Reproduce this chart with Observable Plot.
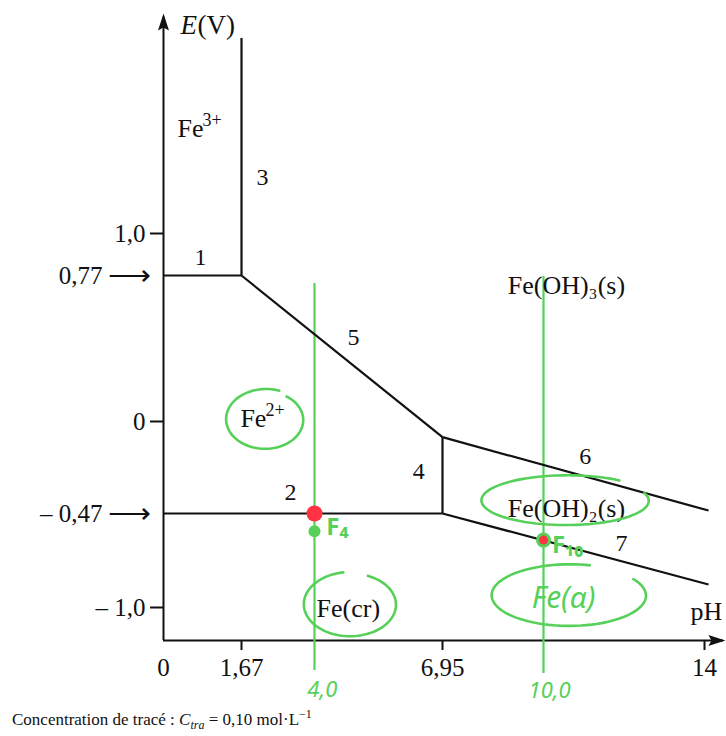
<!DOCTYPE html>
<html><head><meta charset="utf-8">
<script src="https://cdn.jsdelivr.net/npm/d3@7"></script>
<script src="https://cdn.jsdelivr.net/npm/@observablehq/plot@0.6"></script>
<style>
body{margin:0;background:#fff;}
#chart svg{overflow:visible;}
#caption{font-family:"Liberation Serif",serif;font-size:17px;margin-left:12px;line-height:22px;margin-top:-4px;color:#111;position:relative;}
</style>
</head><body>
<div id="chart"></div>
<div id="caption">Concentration de tracé : <i>C<sub style="font-size:12px">tra</sub></i> = 0,10 mol·L<sup style="font-size:12px">−1</sup></div>
<script>
// ---- data ----
const boundaryId = ["1","2","3","4","5","6","7"];
const boundaryPH1 = [0, 0, 1.67, 6.95, 1.67, 6.95, 6.95];
const boundaryPH2 = [1.67, 6.95, 1.67, 6.95, 6.95, 14.1, 14.1];
const boundaryE1 = [0.77, -0.47, 0.77, -0.47, 0.77, -0.08, -0.47];
const boundaryE2 = [0.77, -0.47, 2.04, -0.08, -0.08, -0.455, -0.87];

const labelPH = [0.79, 3.23, 2.34, 6.40, 4.90, 11.04, 11.94];
const labelE = [0.87, -0.36, 1.30, -0.255, 0.443, -0.179, -0.64];

const species = ["Fe", "Fe", "Fe(OH)₃(s)", "Fe(OH)₂(s)", "Fe(cr)"];
const speciesCharge = ["3+", "2+", "", "", ""];
const speciesPH = [0.58, 2.05, 10.57, 10.57, 4.78];
const speciesE = [1.56, 0.016, 0.717, -0.444, -1.005];

const yTicks = [1.0, 0, -1.0];
const xTicks = [1.67, 6.95, 14];
const markedE = [0.77, -0.47];
const markedLabels = ["0,77", "– 0,47"];

// handwritten annotations
const studyPH = [4, 10];
const studyTopE = [0.728, 0.765];
const studyBottomE = [-1.315, -1.33];
const studyLabels = ["4,0", "10,0"];
const studyLabelPH = [4.18, 10.15];
const studyLabelE = [-1.41, -1.415];
const pointNames = ["F₄", "F₁₀"];
const pointNamePH = [4.53, 10.6];
const pointNameE = [-0.549, -0.65];
const circledPH = [2.44, 10.57, 4.83, 10.65];
const circledE = [0.010, -0.404, -0.983, -0.932];
const handText = ["Fe(α)"];
const handPH = [10.5];
const handE = [-0.949];
// F4: red on the boundary, green just below; F10: red inside green
const f4RedPH = [4], f4RedE = [-0.47];
const f4GreenPH = [4], f4GreenE = [-0.57];
const f10PH = [10], f10E = [-0.62];

// ---- layout (scale calibration) ----
const phDomain = [0, 1.67, 4, 6.95, 10, 14];
const phRange = [163, 241, 314, 442, 543, 704];
const eDomain = [-1.165, -1, -0.47, 0, 0.77, 1, 2.17];
const eRange = [640, 607, 513, 421, 275, 233, 13];
const axisBottomE = -1.165, axisTopE = 2.17, axisRightPH = 14.52;

const GREEN = "#57d05a", RED = "#ff3344";
const serif = "Liberation Serif";
const hand = "Noto Sans";

const comma = d => {
  const s = (Math.abs(d) === 1 ? Math.abs(d).toFixed(1) : String(Math.abs(d))).replace(".", ",");
  return d < 0 ? "– " + s : s;
};

const boundaries = boundaryId.map((id, i) => ({id, x1: boundaryPH1[i], x2: boundaryPH2[i], y1: boundaryE1[i], y2: boundaryE2[i]}));
const labels = boundaryId.map((id, i) => ({id, x: labelPH[i], y: labelE[i]}));
const speciesData = species.map((s, i) => ({s, c: speciesCharge[i], x: speciesPH[i], y: speciesE[i]}));

const arrowHead = {draw(ctx) { ctx.moveTo(0, 0); ctx.lineTo(-5.5, 17); ctx.lineTo(0, 14); ctx.lineTo(5.5, 17); ctx.closePath(); }};
function handEllipse(rx, ry, start, sweep, grow) {
  return {draw(ctx) {
    const n = 80;
    for (let k = 0; k <= n; k++) {
      const a = start + sweep * k / n;
      const g = 1 + grow * k / n;
      const px = rx * g * Math.cos(a), py = ry * g * Math.sin(a);
      if (k === 0) ctx.moveTo(px, py); else ctx.lineTo(px, py);
    }
  }};
}
const ellipseShapes = [
  handEllipse(37, 28, -1.0, 2 * Math.PI - 0.2, 0.10),
  handEllipse(82, 24, -0.35, 2 * Math.PI - 0.55, 0.06),
  handEllipse(45, 31, -1.2, 2 * Math.PI - 0.5, 0.05),
  handEllipse(76, 30, -0.6, 2 * Math.PI - 0.7, 0.04)
];

const marks = [
  // axes
  Plot.ruleX([0], {x: 0, y1: axisBottomE, y2: axisTopE - 0.02, stroke: "#111", strokeWidth: 2}),
  Plot.ruleY([axisBottomE], {y: d => d, x1: 0, x2: axisRightPH - 0.05, stroke: "#111", strokeWidth: 2}),
  Plot.dot([0], {x: 0, y: axisTopE, symbol: arrowHead, fill: "#111", stroke: "none", r: 5}),
  Plot.dot([0], {x: axisRightPH, y: axisBottomE, symbol: arrowHead, rotate: 90, fill: "#111", stroke: "none", r: 5}),
  Plot.axisY(yTicks, {anchor: "left", tickSize: 13, tickPadding: 5, strokeWidth: 2, tickFormat: comma, fontSize: 25, fontFamily: serif, fill: "#111"}),
  Plot.axisX(xTicks, {anchor: "bottom", tickSize: 10, tickPadding: 8, strokeWidth: 2, tickFormat: comma, fontSize: 25, fontFamily: serif, fill: "#111"}),
  Plot.axisX([0], {anchor: "bottom", tickSize: 0, tickPadding: 18, tickFormat: comma, fontSize: 25, fontFamily: serif, fill: "#111"}),
  Plot.text(markedE, {x: 0, y: d => d, text: (d, i) => markedLabels[i], textAnchor: "end", dx: -61, fontSize: 25, fontFamily: serif, fill: "#111"}),
  Plot.text(markedE, {x: 0, y: d => d, text: () => "⟶", textAnchor: "end", dx: -13, fontSize: 30, fontFamily: serif, fill: "#111"}),
  Plot.text(["E"], {x: 0, y: axisTopE, text: d => d, textAnchor: "start", dx: 17, dy: 12, fontSize: 27, fontStyle: "italic", fontFamily: serif, fill: "#111"}),
  Plot.text(["(V)"], {x: 0, y: axisTopE, text: d => d, textAnchor: "start", dx: 34, dy: 12, fontSize: 27, fontFamily: serif, fill: "#111"}),
  Plot.text(["pH"], {x: 14, y: axisBottomE, text: d => d, dx: 2, dy: -29, fontSize: 26, fontFamily: serif, fill: "#111"}),
  // green study lines
  Plot.ruleX(studyPH, {x: d => d, y1: (d, i) => studyTopE[i], y2: (d, i) => studyBottomE[i], stroke: GREEN, strokeWidth: 2.2}),
  // boundaries
  Plot.link(boundaries, {x1: "x1", y1: "y1", x2: "x2", y2: "y2", stroke: "#111", strokeWidth: 2.2}),
  Plot.text(labels, {x: "x", y: "y", text: "id", fontSize: 24, fontFamily: serif, fill: "#111"}),
  Plot.text(speciesData.filter(d => d.c === ""), {x: "x", y: "y", text: "s", fontSize: 26, fontFamily: serif, fill: "#111"}),
  Plot.text(speciesData.filter(d => d.c !== ""), {x: "x", y: "y", text: "s", fontSize: 26, fontFamily: serif, fill: "#111"}),
  Plot.text(speciesData.filter(d => d.c !== ""), {x: "x", y: "y", text: "c", textAnchor: "start", dx: 12, dy: -8, fontSize: 18, fontFamily: serif, fill: "#111"}),
  // handwritten circles
  ...ellipseShapes.map((shape, i) => Plot.dot([i], {x: circledPH[i], y: circledE[i], symbol: shape, r: 5, fill: "none", stroke: GREEN, strokeWidth: 2.6})),
  // points
  Plot.dot(f4GreenPH, {x: d => d, y: (d, i) => f4GreenE[i], r: 6, fill: GREEN}),
  Plot.dot(f4RedPH, {x: d => d, y: (d, i) => f4RedE[i], r: 8, fill: RED}),
  Plot.dot(f10PH, {x: d => d, y: (d, i) => f10E[i], r: 7.5, fill: GREEN}),
  Plot.dot(f10PH, {x: d => d, y: (d, i) => f10E[i], r: 4.5, fill: RED}),
  Plot.text(pointNames, {x: (d, i) => pointNamePH[i], y: (d, i) => pointNameE[i], text: d => d, fontSize: 24, fontWeight: "bold", fontFamily: hand, fill: GREEN}),
  Plot.text(studyLabels, {x: (d, i) => studyLabelPH[i], y: (d, i) => studyLabelE[i], text: d => d, fontSize: 22, fontStyle: "italic", fontFamily: hand, fill: GREEN}),
  Plot.text(handText, {x: (d, i) => handPH[i], y: (d, i) => handE[i], text: d => d, fontSize: 30, fontStyle: "italic", fontFamily: hand, fill: GREEN})
];

const chart = Plot.plot({
  width: 726,
  height: 707,
  marginLeft: 163,
  marginRight: 22,
  marginTop: 13,
  marginBottom: 67,
  x: {type: "linear", domain: phDomain, range: phRange},
  y: {type: "linear", domain: eDomain, range: eRange},
  style: {fontFamily: serif, fontSize: "24px", background: "#fff", color: "#111", overflow: "visible"},
  marks
});
document.getElementById("chart").append(chart);
</script>
</body></html>
